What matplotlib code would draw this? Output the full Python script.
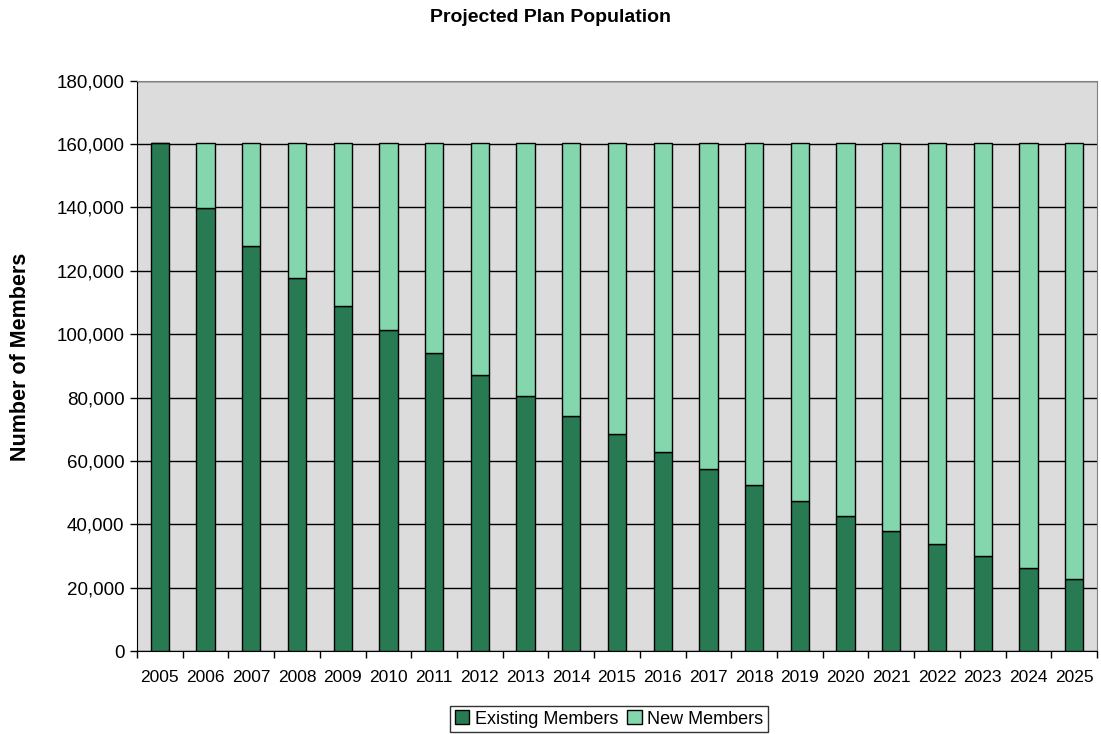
import matplotlib
matplotlib.use("Agg")
import matplotlib.pyplot as plt
import numpy as np
from matplotlib.ticker import FuncFormatter, FixedLocator

years = [str(y) for y in range(2005, 2026)]
total = 160300
existing = [160300, 139700, 127700, 117700, 109000, 101300, 93900, 87100, 80400,
            74300, 68400, 62900, 57600, 52300, 47200, 42500, 38000, 33900, 29900,
            26200, 22700]
new_members = [total - e for e in existing]

dark = "#277A52"
light = "#84D6AC"

plt.rcParams['font.family'] = ['Liberation Sans', 'DejaVu Sans']

fig = plt.figure(figsize=(11.01, 7.34), dpi=100)
ax = fig.add_axes([137/1101, 1-651/734, (1097-137)/1101, (651-80.7)/734])
ax.set_facecolor("#DCDCDC")

x = np.arange(len(years))
ax.bar(x, existing, width=0.4, color=dark, edgecolor="black", linewidth=1.0,
       label="Existing Members", zorder=3)
ax.bar(x, new_members, width=0.4, bottom=existing, color=light, edgecolor="black",
       linewidth=1.0, label="New Members", zorder=3)

ax.set_xlim(-0.5, len(years) - 0.5)
ax.set_ylim(0, 180000)
ax.set_yticks(np.arange(0, 180001, 20000))
ax.yaxis.set_major_formatter(FuncFormatter(lambda v, p: f"{int(v):,}"))
ax.grid(axis="y", color="black", linewidth=1.0, zorder=1)
ax.set_axisbelow(True)

ax.set_xticks(x)
ax.set_xticklabels(years)
ax.tick_params(axis="x", which="major", length=0, labelsize=12.5, pad=14)
ax.xaxis.set_minor_locator(FixedLocator(np.arange(-0.5, len(years), 1.0)))
ax.tick_params(axis="x", which="minor", length=5, width=1, direction="out")
ax.tick_params(axis="y", length=5, width=1, labelsize=13.5, pad=4)

for s in ["top", "right"]:
    ax.spines[s].set_color("#808080")
for s in ["left", "bottom"]:
    ax.spines[s].set_color("black")

fig.text(21/1101, 1-357/734, "Number of Members", rotation=90, ha="center",
         va="center", fontsize=15.5, fontweight="bold")
fig.text(551/1101, 1-17/734, "Projected Plan Population", ha="center", va="center",
         fontsize=14, fontweight="bold")

leg = fig.legend(loc="center", bbox_to_anchor=(609/1101, 1-719/734), ncol=2,
                 fontsize=13, frameon=True, fancybox=False, edgecolor="black",
                 handlelength=0.8, handleheight=0.8, handletextpad=0.3,
                 columnspacing=0.5, borderpad=0.25, borderaxespad=0)
leg.get_frame().set_linewidth(1.0)

fig.savefig("out.png", dpi=100)
